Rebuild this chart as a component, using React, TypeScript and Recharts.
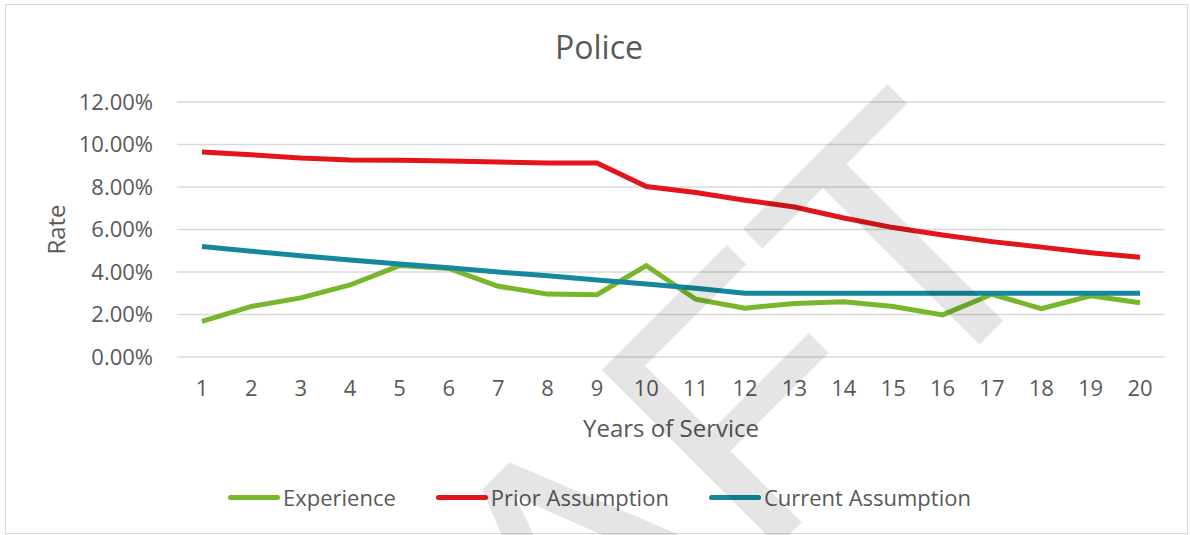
import { CartesianGrid, Line, LineChart, XAxis, YAxis } from 'recharts';

const years = ['1', '2', '3', '4', '5', '6', '7', '8', '9', '10', '11', '12', '13', '14', '15', '16', '17', '18', '19', '20'];
const experience = [1.68, 2.38, 2.78, 3.39, 4.3, 4.17, 3.33, 2.96, 2.93, 4.3, 2.72, 2.3, 2.52, 2.6, 2.38, 1.98, 2.95, 2.28, 2.88, 2.55];
const priorAssumption = [9.65, 9.52, 9.36, 9.27, 9.26, 9.22, 9.18, 9.13, 9.13, 8.02, 7.74, 7.38, 7.06, 6.54, 6.09, 5.74, 5.43, 5.17, 4.91, 4.69];
const currentAssumption = [5.2, 4.98, 4.77, 4.57, 4.38, 4.2, 4.0, 3.82, 3.62, 3.43, 3.23, 3.0, 3.0, 3.0, 3.0, 3.0, 3.0, 3.0, 3.0, 3.0];
const rateTicks = [0, 2, 4, 6, 8, 10, 12];

const series = [
  { key: 'experience', name: 'Experience', color: '#78b72b' },
  { key: 'prior', name: 'Prior Assumption', color: '#e3151b' },
  { key: 'current', name: 'Current Assumption', color: '#15889d' },
];

const data = years.map((year, i) => ({
  year,
  experience: experience[i],
  prior: priorAssumption[i],
  current: currentAssumption[i],
}));

const font = "'Open Sans', sans-serif";
const textColor = '#595959';

function RateLabel(props: any) {
  const { viewBox } = props;
  const x = viewBox.x + 65;
  const y = viewBox.y + viewBox.height / 2;
  return (
    <text x={x} y={y} transform={`rotate(-90 ${x} ${y})`} textAnchor="middle" fill={textColor} fontSize={24} fontFamily={font}>
      Rate
    </text>
  );
}

function YearsLabel(props: any) {
  const { viewBox } = props;
  return (
    <text x={viewBox.x + viewBox.width / 2} y={viewBox.y + 80} textAnchor="middle" fill={textColor} fontSize={24} fontFamily={font}>
      Years of Service
    </text>
  );
}

export default function App() {
  return (
    <div style={{ position: 'absolute', left: 0, top: 0, width: 1190, height: 535, background: '#fff', fontFamily: font }}>
      <div style={{ position: 'absolute', left: 5, top: 4, width: 1181, height: 528, border: '1px solid #d9d9d9' }} />
      <LineChart width={1190} height={535} data={data} margin={{ top: 102, right: 25, left: 0, bottom: 0 }}>
        <CartesianGrid vertical={false} stroke="#d9d9d9" strokeWidth={1.5} />
        <XAxis
          dataKey="year"
          height={178}
          padding={{ left: 25, right: 25 }}
          axisLine={false}
          tickLine={false}
          tickSize={0}
          tickMargin={23}
          interval={0}
          tick={{ fill: textColor, fontSize: 22, fontFamily: font }}
          label={<YearsLabel />}
        />
        <YAxis
          width={177}
          domain={[0, 12]}
          ticks={rateTicks}
          interval={0}
          axisLine={false}
          tickLine={false}
          tickSize={0}
          tickMargin={24}
          tick={{ fill: textColor, fontSize: 22, fontFamily: font }}
          tickFormatter={(v) => `${Number(v).toFixed(2)}%`}
          label={<RateLabel />}
        />
        {series.map((s) => (
          <Line
            key={s.key}
            type="linear"
            dataKey={s.key}
            name={s.name}
            stroke={s.color}
            strokeWidth={5}
            dot={false}
            isAnimationActive={false}
          />
        ))}
      </LineChart>
      <div
        style={{
          position: 'absolute',
          left: 228,
          top: 482,
          height: 30,
          display: 'flex',
          alignItems: 'center',
          gap: 40,
          color: textColor,
          fontSize: 22,
          whiteSpace: 'nowrap',
        }}
      >
        {series.map((s) => (
          <div key={s.key} style={{ display: 'flex', alignItems: 'center' }}>
            <span style={{ display: 'inline-block', width: 52, height: 5, borderRadius: 3, background: s.color, marginRight: 3 }} />
            <span>{s.name}</span>
          </div>
        ))}
      </div>
      <svg width={1190} height={535} style={{ position: 'absolute', left: 0, top: 0, pointerEvents: 'none' }}>
        <text x={599} y={59} textAnchor="middle" fill={textColor} fontSize={32} fontFamily={font}>
          Police
        </text>
        <text
          x={643}
          y={681}
          transform="rotate(-45 643 681)"
          textAnchor="middle"
          fontSize={362}
          fontFamily="'Liberation Sans', sans-serif"
          fill="#000"
          fillOpacity={0.1}
        >
          DRAFT
        </text>
      </svg>
    </div>
  );
}
